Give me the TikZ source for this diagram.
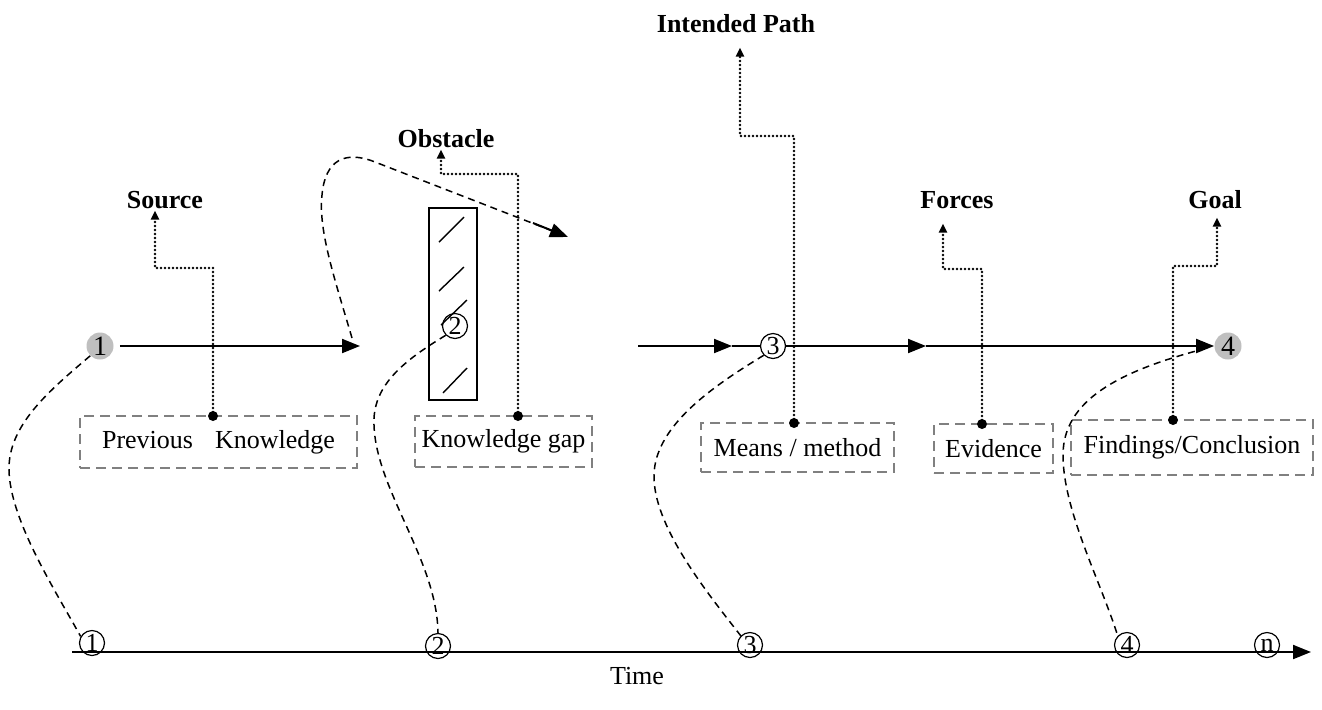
\documentclass[tikz,border=0pt]{standalone}
\usepackage{fontspec}
\setmainfont{Liberation Serif}
\usetikzlibrary{arrows.meta,calc}
\begin{document}
\begin{tikzpicture}[x=0.5pt,y=-0.5pt,
  txt/.style={font=\fontsize{13}{15}\selectfont},
  lab/.style={font=\fontsize{13}{15}\selectfont\bfseries, inner sep=0pt, anchor=base},
  box/.style={draw=black!50, dash pattern=on 5pt off 3pt, line width=1pt, txt, inner sep=0pt},
  num/.style={circle, draw, line width=0.6pt, inner sep=0pt, minimum size=12.5pt, font=\fontsize{13}{13}\selectfont},
  gnum/.style={circle, fill=black!25, inner sep=0pt, minimum size=13.5pt, font=\fontsize{14}{14}\selectfont},
  flow/.style={line width=1pt, -{Triangle[length=9pt,width=7pt]}},
  plain/.style={line width=1pt},
  route/.style={line width=0.75pt, dash pattern=on 3.5pt off 2.5pt},
  pointer/.style={line width=1.3pt, line cap=round, dash pattern=on 0pt off 2pt, -{Triangle[length=4.5pt,width=4pt]}},
  anchordot/.style={circle, fill, inner sep=0pt, minimum size=5pt},
  hatch/.style={line width=0.7pt},
]
\useasboundingbox (0,0) rectangle (1322,709);

% stations on the path
\node[gnum] (c1) at (100,346) {1};
\node[num]  (c2) at (455,326) {2};
\node[num]  (c3) at (773,346) {3};
\node[gnum] (c4) at (1228,346) {4};

% obstacle block
\node[draw, line width=0.7pt, minimum width=24pt, minimum height=96pt, inner sep=0pt] (obs) at (453,304) {};
\draw[hatch] (439,242) -- (464,217);
\draw[hatch] (439,291) -- (464,267);
\draw[hatch] (441,325) -- (467,300);
\draw[hatch] (443,393) -- (467,368);

% time axis
\coordinate (ts) at (72,652);
\coordinate (te) at (1311,652);
\draw[flow] (ts) -- (te);
\node[num] (t1) at (92,643) {1};
\node[num] (t2) at (438,646) {2};
\node[num] (t3) at (750,645) {3};
\node[num] (t4) at (1127,645) {4};
\node[num] (tn) at (1267,645) {n};
\node[txt] (time) at (637,676) {Time};

% boxes
\node[box, minimum width=138.5pt, minimum height=26pt] (b1) at (218.5,442) {Previous\hspace{11pt}Knowledge};
\node[box, minimum width=88.5pt, minimum height=25.5pt] (b2) at (503.5,441.5) {Knowledge gap};
\node[box, minimum width=96.5pt, minimum height=24.5pt] (b3) at (797.5,447.5) {Means / method};
\node[box, minimum width=59.5pt, minimum height=24.5pt] (b4) at (993.5,448.5) {Evidence};
\node[box, minimum width=121pt, minimum height=27.5pt] (b5) at (1192,447.5) {Findings/Conclusion};

% labels
\node[lab] (l1) at (165,208) {Source};
\node[lab] (l2) at (446,147) {Obstacle};
\node[lab] (l3) at (736,32) {Intended Path};
\node[lab] (l4) at (957,208) {Forces};
\node[lab] (l5) at (1215,208) {Goal};

% dots on the boxes
\coordinate (d1) at (213,416);
\coordinate (d2) at (518,416);
\coordinate (d3) at (794,423);
\coordinate (d4) at (982,424);
\coordinate (d5) at (1173,420);

% corners of the pointers
\coordinate (k1) at (155,268);
\coordinate (k2) at (441,174);
\coordinate (k3) at (740,136);
\coordinate (k4) at (943,269);
\coordinate (k5) at (1217,266);

\draw[pointer, shorten >=1pt] (d1) |- (k1) -- (k1 |- l1.south);
\draw[pointer, shorten >=1pt] (d2) |- (k2) -- (k2 |- l2.south);
\draw[pointer, shorten >=7.5pt] (d3) |- (k3) -- (k3 |- l3.south);
\draw[pointer, shorten >=7.5pt] (d4) |- (k4) -- (k4 |- l4.south);
\draw[pointer, shorten >=4.5pt] (d5) |- (k5) -- (k5 |- l5.south);

\foreach \d in {d1,d2,d3,d4,d5} \node[anchordot] at (\d) {};

% path from source
\coordinate (p1) at (360,346);
\draw[flow, shorten <=3pt] (c1) -- (p1);

% detour over the obstacle
\coordinate (p2) at (568,237);
\coordinate (q2) at (533,223);
\draw[route] ($(p1)+(-8,-8)$) .. controls (335,280) and (318,230) .. (322,195)
  .. controls (325,160) and (345,150) .. (375,162) -- (p2);
\draw[flow] (q2) -- (p2);

% intended path
\coordinate (s3) at (638,346);
\coordinate (m3) at (732,346);
\coordinate (m4) at (926,346);
\draw[flow] (s3) -- (m3);
\draw[plain] (m3) -- (c3);
\draw[flow] (c3) -- (m4);
\draw[flow] (m4) -- (c4);

% links to the time axis
\draw[route] (c1.225) .. controls (50,390) and (8,425) .. (9,470)
  .. controls (10,520) and (55,590) .. (t1.150);
\draw[route] (c2.225) .. controls (405,360) and (372,385) .. (374,425)
  .. controls (376,490) and (437,560) .. (t2.north);
\draw[route] (c3.225) .. controls (715,385) and (655,425) .. (654,475)
  .. controls (653,525) and (705,590) .. (t3.135);
\draw[route, shorten <=10pt] (c4.west) .. controls (1120,372) and (1063,400) .. (1063,455)
  .. controls (1063,510) and (1100,580) .. (t4.135);
\end{tikzpicture}
\end{document}
